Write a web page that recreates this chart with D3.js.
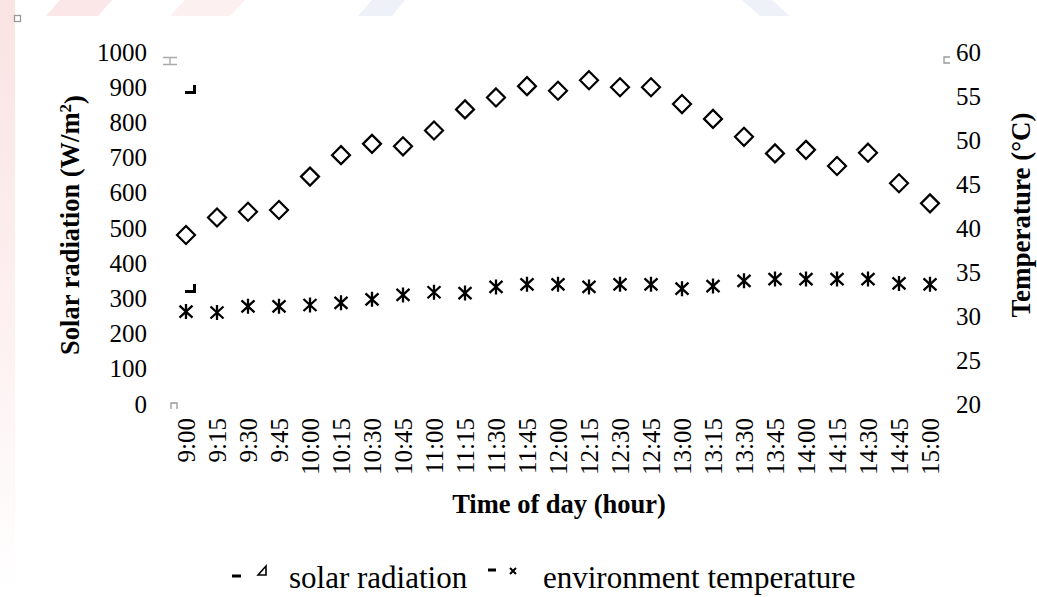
<!DOCTYPE html>
<html>
<head>
<meta charset="utf-8">
<script src="https://cdn.jsdelivr.net/npm/d3@7"></script>
<style>
  html, body { margin: 0; padding: 0; background: #ffffff; }
  svg { display: block; }
  text { font-family: "Liberation Serif", "Times New Roman", serif; fill: #000; }
</style>
</head>
<body>
<svg id="chart" width="1037" height="597"></svg>
<script>
// Time of day (15-minute readings)
const times = ["9:00","9:15","9:30","9:45","10:00","10:15","10:30","10:45","11:00","11:15",
  "11:30","11:45","12:00","12:15","12:30","12:45","13:00","13:15","13:30","13:45",
  "14:00","14:15","14:30","14:45","15:00"];

// Solar radiation, W/m²
const solarRadiation = [480, 530, 546, 551, 646, 707, 739, 732, 777, 837,
  871, 903, 890, 920, 900, 900, 852, 810, 759, 712,
  722, 676, 714, 627, 570];

// Environment temperature, °C
const envTemperature = [30.5, 30.4, 31.1, 31.1, 31.25, 31.5, 31.9, 32.4, 32.7, 32.6,
  33.3, 33.6, 33.6, 33.3, 33.6, 33.6, 33.1, 33.4, 34.0, 34.2,
  34.2, 34.2, 34.2, 33.7, 33.6];

// Axis ticks
const radiationTicks = [0, 100, 200, 300, 400, 500, 600, 700, 800, 900, 1000];
const temperatureTicks = [20, 25, 30, 35, 40, 45, 50, 55, 60];

const svg = d3.select("#chart");
const defs = svg.append("defs");

// faint watermark around the chart area
const wm = svg.append("g");
const wmLeft = defs.append("linearGradient")
  .attr("id", "wmLeft").attr("x1", 0).attr("y1", 0).attr("x2", 0).attr("y2", 1);
wmLeft.append("stop").attr("offset", "0%").attr("stop-color", "#fae3e3");
wmLeft.append("stop").attr("offset", "55%").attr("stop-color", "#fdf1f1");
wmLeft.append("stop").attr("offset", "100%").attr("stop-color", "#ffffff");
wm.append("rect").attr("x", 0).attr("y", 0).attr("width", 15).attr("height", 597).attr("fill", "url(#wmLeft)");
wm.append("polygon").attr("points", "60,0 112,0 98,16 46,16").attr("fill", "#fbe7e7");
wm.append("polygon").attr("points", "185,0 245,0 230,16 170,16").attr("fill", "#fdf0f0");
wm.append("polygon").attr("points", "372,0 405,0 392,16 358,16").attr("fill", "#eef1f8");
wm.append("polygon").attr("points", "742,0 772,0 790,16 760,16").attr("fill", "#eef1f8");

// white chart area
svg.append("rect").attr("x", 15).attr("y", 16).attr("width", 1022).attr("height", 581).attr("fill", "#ffffff");

// scales
const x = d3.scalePoint().domain(times).range([186, 930]);
const yLeft = d3.scaleLinear().domain([0, 1000]).range([404, 52]);
const yRight = d3.scaleLinear().domain([20, 60]).range([404, 52]);

// left axis
const gLeft = svg.append("g").attr("transform", "translate(150,0)")
  .call(d3.axisLeft(yLeft).tickValues(radiationTicks).tickFormat(d3.format("d")).tickSize(0).tickPadding(3));
gLeft.select(".domain").remove();
gLeft.selectAll("text").style("font-size", "25px").style("font-family", "Liberation Serif, serif").attr("fill", "#000");

// right axis
const gRight = svg.append("g").attr("transform", "translate(953,0)")
  .call(d3.axisRight(yRight).tickValues(temperatureTicks).tickFormat(d3.format("d")).tickSize(0).tickPadding(3));
gRight.select(".domain").remove();
gRight.selectAll("text").style("font-size", "25px").style("font-family", "Liberation Serif, serif").attr("fill", "#000");

// bottom axis with vertical labels
const gBottom = svg.append("g").attr("transform", "translate(0,418)")
  .call(d3.axisBottom(x).tickSize(0));
gBottom.select(".domain").remove();
gBottom.selectAll("text")
  .attr("x", 0).attr("y", 0).attr("dy", "0.33em")
  .attr("transform", "rotate(-90)")
  .style("text-anchor", "end")
  .style("font-size", "25px").style("font-family", "Liberation Serif, serif").attr("fill", "#000");

// axis titles
svg.append("text").attr("x", 559).attr("y", 513).attr("text-anchor", "middle")
  .style("font-size", "26.5px").style("font-weight", "bold").text("Time of day (hour)");

const tLeft = svg.append("text").attr("transform", "translate(79,225) rotate(-90)")
  .attr("text-anchor", "middle").style("font-size", "26.5px").style("font-weight", "bold");
tLeft.append("tspan").text("Solar radiation (W/m");
tLeft.append("tspan").attr("dy", "-0.45em").style("font-size", "17px").text("2");
tLeft.append("tspan").attr("dy", "0.45em").text(")");

svg.append("text").attr("transform", "translate(1030,215) rotate(-90)")
  .attr("text-anchor", "middle").style("font-size", "27px").style("font-weight", "bold")
  .text("Temperature (°C)");

// solar radiation: open diamonds
const diamond = "M0,-9L9,0L0,9L-9,0Z";
svg.append("g").selectAll("path").data(times).join("path")
  .attr("d", diamond)
  .attr("transform", (t, i) => `translate(${x(t)},${yLeft(solarRadiation[i])})`)
  .attr("fill", "#fff").attr("stroke", "#000").attr("stroke-width", 2.2);

// environment temperature: asterisks
const asterisk = "M0,-7.5L0,7.5M-6.5,-6L6.5,6M-6.5,6L6.5,-6";
svg.append("g").selectAll("path").data(times).join("path")
  .attr("d", asterisk)
  .attr("transform", (t, i) => `translate(${x(t)},${yRight(envTemperature[i])})`)
  .attr("fill", "none").attr("stroke", "#000").attr("stroke-width", 2.3);

// small stray handle marks
const marks = svg.append("g");
marks.append("rect").attr("x", 14.5).attr("y", 15.5).attr("width", 6).attr("height", 6)
  .attr("fill", "none").attr("stroke", "#999").attr("stroke-width", 1.3);
marks.append("path").attr("d", "M163,57.5H177M163,64.5H177M170,57.5V64.5")
  .attr("fill", "none").attr("stroke", "#aaa").attr("stroke-width", 1.4);
marks.append("path").attr("d", "M171,409V403H177V409")
  .attr("fill", "none").attr("stroke", "#999").attr("stroke-width", 1.3);
marks.append("path").attr("d", "M950,57H944V63H950")
  .attr("fill", "none").attr("stroke", "#999").attr("stroke-width", 1.3);
[90, 289].forEach(yy => {
  marks.append("path").attr("d", `M194.5,${yy - 5}V${yy + 4}M185,${yy + 2.5}H196`)
    .attr("fill", "none").attr("stroke", "#000").attr("stroke-width", 3);
});

// legend
const legend = svg.append("g");
legend.append("path").attr("d", "M232,576H241").attr("stroke", "#000").attr("stroke-width", 3);
legend.append("path").attr("d", "M258,575L266,566V575Z").attr("fill", "none").attr("stroke", "#000").attr("stroke-width", 1.6);
legend.append("text").attr("x", 289).attr("y", 588).style("font-size", "31px").text("solar radiation");
legend.append("path").attr("d", "M488,570H496").attr("stroke", "#000").attr("stroke-width", 3);
legend.append("path").attr("d", "M510,568L516,574M516,568L510,574").attr("stroke", "#000").attr("stroke-width", 2);
legend.append("text").attr("x", 543).attr("y", 588).style("font-size", "31px").text("environment temperature");
</script>
</body>
</html>
